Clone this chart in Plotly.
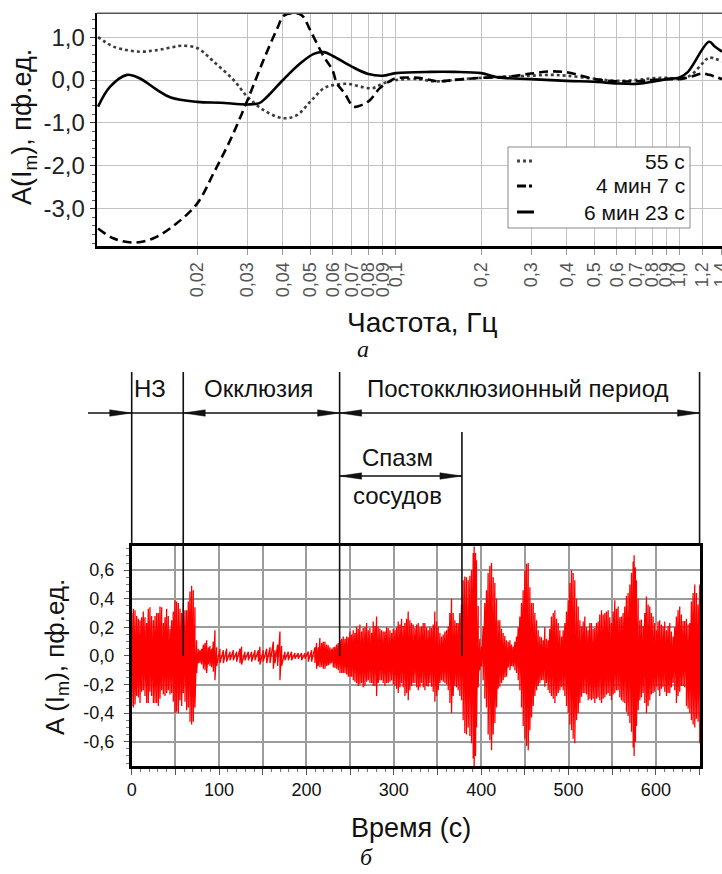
import numpy as np
import plotly.graph_objects as go

W, H = 722, 874
FONT = "Liberation Sans, Arial, sans-serif"

# ---------------- Panel a: spectra ----------------
freq_55s = [0.00893, 0.0095, 0.0101, 0.0112, 0.0125, 0.0138, 0.0148, 0.0162, 0.0176, 0.020,
            0.0228, 0.0268, 0.030, 0.0342, 0.040, 0.0448, 0.050, 0.0558, 0.060, 0.068,
            0.0755, 0.0828, 0.090, 0.100, 0.120, 0.135, 0.150, 0.170, 0.200, 0.250,
            0.300, 0.350, 0.400, 0.500, 0.600, 0.700, 0.800, 0.900, 1.000, 1.100,
            1.200, 1.270, 1.410]
amp_55s = [1.00, 0.88, 0.78, 0.70, 0.66, 0.68, 0.71, 0.76, 0.80, 0.74,
           0.43, 0.00, -0.39, -0.70, -0.89, -0.82, -0.50, -0.19, -0.12, -0.09,
           -0.16, -0.19, -0.08, 0.00, 0.02, -0.03, -0.02, 0.02, 0.05, 0.08,
           0.10, 0.12, 0.10, 0.03, -0.02, 0.00, 0.04, 0.05, 0.03, 0.12,
           0.38, 0.52, 0.43]

freq_4m7s = [0.00893, 0.0101, 0.0118, 0.0140, 0.0169, 0.020, 0.0228, 0.0261, 0.030, 0.0342,
             0.0382, 0.0403, 0.0440, 0.0468, 0.050, 0.0558, 0.0598, 0.062, 0.066, 0.071,
             0.076, 0.081, 0.0878, 0.0956, 0.100, 0.120, 0.140, 0.160, 0.200, 0.250,
             0.300, 0.350, 0.400, 0.450, 0.500, 0.600, 0.700, 0.800, 0.900, 1.000,
             1.100, 1.200, 1.270, 1.410]
amp_4m7s = [-3.46, -3.69, -3.79, -3.69, -3.34, -2.87, -2.17, -1.40, -0.47, 0.47,
            1.20, 1.50, 1.56, 1.50, 1.15, 0.54, 0.23, -0.08, -0.31, -0.62,
            -0.58, -0.47, -0.19, -0.02, 0.04, 0.05, -0.03, 0.00, 0.05, 0.08,
            0.15, 0.20, 0.18, 0.10, 0.02, -0.03, -0.03, 0.00, 0.02, 0.02,
            0.08, 0.15, 0.12, 0.02]

freq_6m23s = [0.00893, 0.00983, 0.0113, 0.0125, 0.0144, 0.0161, 0.020, 0.0241, 0.030, 0.033,
              0.0352, 0.040, 0.0461, 0.0514, 0.0558, 0.060, 0.070, 0.080, 0.090, 0.100,
              0.133, 0.160, 0.200, 0.229, 0.300, 0.400, 0.500, 0.600, 0.700, 0.800,
              0.900, 1.000, 1.070, 1.270, 1.330, 1.410]
amp_6m23s = [-0.62, -0.16, 0.12, 0.04, -0.23, -0.41, -0.51, -0.53, -0.57, -0.54,
             -0.39, 0.00, 0.39, 0.61, 0.65, 0.56, 0.31, 0.14, 0.10, 0.16,
             0.19, 0.19, 0.16, 0.06, 0.02, -0.02, -0.04, -0.08, -0.09, -0.04,
             0.02, 0.06, 0.19, 0.89, 0.78, 0.66]

series_names = ["55 с", "4 мин 7 с", "6 мин 23 с"]

freq_ticks = [0.02, 0.03, 0.04, 0.05, 0.06, 0.07, 0.08, 0.09, 0.1,
              0.2, 0.3, 0.4, 0.5, 0.6, 0.7, 0.8, 0.9, 1.0, 1.2, 1.4]
freq_ticktext = ["0,02", "0,03", "0,04", "0,05", "0,06", "0,07", "0,08", "0,09", "0,1",
                 "0,2", "0,3", "0,4", "0,5", "0,6", "0,7", "0,8", "0,9", "1,0", "1,2", "1,4"]
amp_ticks_a = [-3, -2, -1, 0, 1]
amp_ticktext_a = ["-3,0", "-2,0", "-1,0", "0,0", "1,0"]

# ---------------- Panel b: time signal (peak envelope) ----------------
sig_t = [0, 1.9, 3.8, 5.7, 7.6, 9.5, 11.4, 13.3, 15.2, 17.1,
         19, 20.9, 22.8, 24.8, 26.7, 28.6, 30.5, 32.4, 34.3, 36.2,
         38.1, 40, 41.9, 43.8, 45.7, 47.6, 49.5, 51.4, 53.4, 55.3,
         57.2, 59.1, 61, 62.9, 64.8, 66.7, 68.6, 70.5, 72.4, 74.3,
         76.2, 78.1, 80.1, 82, 83.9, 85.8, 87.7, 89.6, 91.5, 93.4,
         95.3, 97.2, 101, 104.9, 108.7, 112.5, 116.3, 120.1, 123.9, 125.8,
         129.6, 133.5, 137.3, 141.1, 145, 146.8, 150.6, 154.5, 158.3, 162.1,
         164, 167, 169.7, 171.6, 175.4, 179.2, 183, 186.8, 190.6, 194.5,
         198.3, 202.1, 205.9, 209.7, 211.6, 213.5,
         215.4, 217.4, 219.3, 221.2, 223.1, 225, 226.9, 228.8, 230.7, 232.6,
         234.5, 236.4, 238.4, 240.3, 242.2, 244.1, 246, 247.9, 249.8, 251.7,
         253.6, 255.5, 257.4, 259.3, 261.2, 263.1, 265, 267, 268.9, 270.8,
         272.7, 274.6, 276.5, 278.4, 280.3, 282.2, 284.1, 286, 287.9, 289.8,
         291.7, 293.6, 295.6, 297.5, 299.4, 301.3, 303.2, 305.1, 307, 308.9,
         310.8, 312.7, 314.6, 316.5, 318.4, 320.3, 322.2, 324.2, 326.1, 328,
         329.9, 331.8, 333.7, 335.6, 337.5, 339.4, 341.3, 343.2, 345.1, 347,
         349, 350.9, 352.8, 354.7, 356.6, 358.5, 360.4, 362.3, 364.2, 366.1,
         368, 369.9, 371.8, 373.7, 375.6, 377.5, 379.4, 381.3, 383.2, 385.2,
         387.1, 389, 390.9, 392, 393.6, 394.7, 396.6, 398.5, 400.4, 402.3,
         404.2, 406.1, 408, 410, 411.9, 413.8, 415.7, 417.6, 419.5, 421.4,
         423.3, 425.2, 427.1, 429,
         431, 433, 434.8, 436.7, 438.6, 440.5, 442.4, 444.3, 446.2, 448.1,
         450.1, 452, 453.9, 455.8, 457.7, 459.6, 461.5, 463.4, 465.3, 467.2,
         469.1, 471, 472.9, 474.8, 476.7, 478.6, 480.5, 482.5, 484.4, 486.3,
         488.2, 490.1, 492, 493.9, 495.8, 497.7, 499.6, 501.5, 503.4, 505.3,
         507.2, 509.2, 511.1, 513, 514.9, 516.8, 518.7, 520.6, 522.5, 524.4,
         526.3, 528.2, 530.1, 532, 533.9, 535.8, 537.8, 539.7, 541.6, 543.5,
         545.4, 547.3, 549.2, 551.1, 553, 554.9, 556.8, 558.7, 560.6, 562.5,
         564.4, 566.3, 568.2, 570.2, 572.1, 574, 575.1, 576.6, 577.8, 579.7,
         581.6, 583.5, 585.4, 587.3, 589.2, 591.1, 593, 594.9, 596.8, 598.7,
         600.6, 602.5, 604.4, 606.4, 608.3, 610.2, 612.1, 614, 615.9, 617.8,
         619.7, 621.6, 623.5, 625.4, 627.3, 629.2, 631.1, 633, 635, 636.9,
         638.8, 640.7, 642.6, 644.5, 646.4, 648.3, 650.2]
sig_hi = [0.30, 0.33, 0.32, 0.28, 0.26, 0.25, 0.27, 0.31, 0.27, 0.23,
          0.33, 0.34, 0.28, 0.25, 0.28, 0.30, 0.30, 0.345, 0.34, 0.23,
          0.27, 0.33, 0.28, 0.19, 0.25, 0.31, 0.39, 0.38, 0.37, 0.33,
          0.30, 0.37, 0.32, 0.32, 0.38, 0.45, 0.49, 0.46, 0.34, 0.11,
          0.05, 0.04, 0.05, 0.08, 0.09, 0.11, 0.06, 0.07, 0.05, 0.10,
          0.18, 0.06, 0.05, 0.04, 0.05, 0.03, 0.04, 0.03, 0.05, 0.065,
          0.03, 0.03, 0.03, 0.04, 0.04, 0.065, 0.04, 0.05, 0.06, 0.10,
          0.04, 0.08, 0.17, 0.07, 0.03, 0.03, 0.03, 0.02, 0.02, 0.02,
          0.02, 0.03, 0.04, 0.06, 0.09, 0.06,
          0.125, 0.09, 0.10, 0.10, 0.08, 0.075, 0.06, 0.05, 0.06, 0.065,
          0.08, 0.09, 0.11, 0.12, 0.135, 0.12, 0.135, 0.13, 0.17, 0.15,
          0.18, 0.16, 0.205, 0.19, 0.22, 0.17, 0.195, 0.20, 0.23, 0.18,
          0.195, 0.16, 0.24, 0.21, 0.275, 0.205, 0.19, 0.18, 0.17, 0.17,
          0.20, 0.195, 0.18, 0.16, 0.19, 0.18, 0.20, 0.24, 0.22, 0.26,
          0.21, 0.23, 0.26, 0.31, 0.25, 0.23, 0.22, 0.195, 0.22, 0.23,
          0.20, 0.205, 0.23, 0.23, 0.20, 0.18, 0.20, 0.195, 0.22, 0.31,
          0.24, 0.205, 0.16, 0.135, 0.15, 0.17, 0.18, 0.205, 0.30, 0.40,
          0.30, 0.25, 0.23, 0.23, 0.30, 0.36, 0.53, 0.555, 0.55, 0.53,
          0.56, 0.60, 0.72, 0.765, 0.72, 0.67, 0.35, 0.12, 0.065, 0.205,
          0.37, 0.46, 0.58, 0.63, 0.65, 0.55, 0.51, 0.40, 0.25, 0.25,
          0.19, 0.16, 0.14, 0.11,
          0.10, 0.11, 0.08, 0.065, 0.10, 0.135, 0.20, 0.275, 0.37, 0.46,
          0.60, 0.645, 0.65, 0.48, 0.37, 0.37, 0.30, 0.25, 0.18, 0.135,
          0.13, 0.11, 0.20, 0.12, 0.11, 0.19, 0.275, 0.30, 0.32, 0.26,
          0.23, 0.18, 0.135, 0.18, 0.23, 0.31, 0.39, 0.51, 0.60, 0.58,
          0.53, 0.40, 0.345, 0.25, 0.205, 0.24, 0.275, 0.20, 0.18, 0.23,
          0.23, 0.19, 0.195, 0.23, 0.24, 0.29, 0.32, 0.29, 0.30, 0.31,
          0.32, 0.27, 0.23, 0.31, 0.39, 0.33, 0.345, 0.27, 0.275, 0.30,
          0.345, 0.42, 0.44, 0.50, 0.58, 0.66, 0.705, 0.62, 0.53, 0.40,
          0.25, 0.255, 0.21, 0.30, 0.415, 0.36, 0.345, 0.30, 0.275, 0.23,
          0.18, 0.24, 0.25, 0.22, 0.205, 0.24, 0.18, 0.21, 0.23, 0.17,
          0.135, 0.20, 0.275, 0.32, 0.345, 0.29, 0.245, 0.245, 0.26, 0.22,
          0.23, 0.38, 0.44, 0.50, 0.44, 0.36, 0.50]
sig_lo = [-0.35, -0.36, -0.34, -0.28, -0.29, -0.33, -0.25, -0.24, -0.28, -0.33,
          -0.33, -0.25, -0.28, -0.33, -0.33, -0.33, -0.35, -0.30, -0.24, -0.27,
          -0.28, -0.26, -0.24, -0.27, -0.26, -0.32, -0.40, -0.39, -0.40, -0.31,
          -0.35, -0.26, -0.32, -0.38, -0.36, -0.46, -0.48, -0.46, -0.36, -0.12,
          -0.05, -0.05, -0.06, -0.09, -0.10, -0.12, -0.06, -0.07, -0.08, -0.11,
          -0.17, -0.07, -0.05, -0.05, -0.04, -0.03, -0.03, -0.04, -0.05, -0.06,
          -0.03, -0.03, -0.04, -0.03, -0.04, -0.06, -0.04, -0.05, -0.05, -0.09,
          -0.05, -0.07, -0.17, -0.07, -0.03, -0.03, -0.03, -0.02, -0.02, -0.03,
          -0.02, -0.04, -0.04, -0.05, -0.09, -0.07,
          -0.08, -0.075, -0.09, -0.09, -0.07, -0.065, -0.06, -0.05, -0.08, -0.085,
          -0.09, -0.10, -0.12, -0.12, -0.12, -0.12, -0.13, -0.145, -0.145, -0.145,
          -0.17, -0.18, -0.19, -0.21, -0.20, -0.19, -0.22, -0.21, -0.18, -0.17,
          -0.19, -0.19, -0.21, -0.21, -0.28, -0.19, -0.17, -0.17, -0.19, -0.21,
          -0.19, -0.19, -0.18, -0.17, -0.20, -0.21, -0.23, -0.26, -0.22, -0.19,
          -0.22, -0.28, -0.26, -0.31, -0.24, -0.21, -0.19, -0.19, -0.22, -0.24,
          -0.22, -0.19, -0.22, -0.24, -0.21, -0.215, -0.19, -0.215, -0.25, -0.32,
          -0.28, -0.24, -0.19, -0.17, -0.18, -0.19, -0.20, -0.24, -0.33, -0.40,
          -0.28, -0.21, -0.22, -0.24, -0.28, -0.31, -0.45, -0.54, -0.55, -0.50,
          -0.56, -0.61, -0.72, -0.77, -0.70, -0.50, -0.22, -0.10, -0.075, -0.17,
          -0.30, -0.36, -0.55, -0.59, -0.66, -0.55, -0.47, -0.36, -0.23, -0.215,
          -0.19, -0.17, -0.15, -0.145,
          -0.08, -0.10, -0.07, -0.075, -0.10, -0.12, -0.17, -0.24, -0.36, -0.49,
          -0.58, -0.63, -0.66, -0.52, -0.43, -0.35, -0.28, -0.24, -0.21, -0.19,
          -0.17, -0.17, -0.215, -0.19, -0.24, -0.26, -0.28, -0.30, -0.33, -0.28,
          -0.26, -0.24, -0.215, -0.24, -0.28, -0.35, -0.40, -0.48, -0.52, -0.58,
          -0.61, -0.45, -0.40, -0.33, -0.285, -0.26, -0.26, -0.27, -0.31, -0.30,
          -0.31, -0.30, -0.33, -0.30, -0.29, -0.31, -0.33, -0.30, -0.29, -0.27,
          -0.26, -0.28, -0.31, -0.27, -0.26, -0.24, -0.24, -0.29, -0.31, -0.32,
          -0.33, -0.39, -0.42, -0.47, -0.53, -0.64, -0.70, -0.60, -0.49, -0.38,
          -0.31, -0.29, -0.26, -0.33, -0.40, -0.35, -0.31, -0.27, -0.26, -0.25,
          -0.215, -0.24, -0.28, -0.23, -0.215, -0.25, -0.28, -0.26, -0.26, -0.22,
          -0.19, -0.24, -0.33, -0.28, -0.25, -0.21, -0.21, -0.22, -0.35, -0.37,
          -0.40, -0.45, -0.48, -0.50, -0.44, -0.46, -0.61]

time_ticks = list(range(0, 651, 50))
time_ticktext = [str(v) if v % 100 == 0 else " " for v in time_ticks]
amp_ticks_b = [-0.6, -0.4, -0.2, 0.0, 0.2, 0.4, 0.6]
amp_ticktext_b = ["-0,6", "-0,4", "-0,2", "0,0", "0,2", "0,4", "0,6"]

phase_bounds = [0, 59, 238, 378, 650]
phase_labels = ["НЗ", "Окклюзия", "Постокклюзионный период"]
spasm_label = ["Спазм", "сосудов"]

assert len(sig_t) == len(sig_hi) == len(sig_lo)

# ---------------- layout geometry (pixels) ----------------
A_X = (96.7, 722.0)
A_Y = (13.3, 246.0)
A_XR = (np.log10(0.00883), np.log10(1.41))
A_YR = (-3.87, 1.555)
B_X = (131.7, 700.0)
B_Y = (545.7, 766.0)
B_XR = (0, 650.5)
B_YR = (-0.77, 0.771)


def px(x):
    return x / W


def py(y):
    return 1 - y / H


def t2px(t):
    return B_X[0] + (t - B_XR[0]) / (B_XR[1] - B_XR[0]) * (B_X[1] - B_X[0])


def v2py(v):
    return B_Y[1] - (v - B_YR[0]) / (B_YR[1] - B_YR[0]) * (B_Y[1] - B_Y[0])


def text(x, y, s, size, family=FONT, angle=0, xanchor="center"):
    return dict(xref="paper", yref="paper", x=px(x), y=py(y), text=s, showarrow=False,
                xanchor=xanchor, yanchor="middle", textangle=angle,
                font=dict(family=family, size=size, color="#111"))


fig = go.Figure()
fig.add_trace(go.Scatter(x=freq_55s, y=amp_55s, mode="lines", name=series_names[0],
                         line=dict(color="#3c3c3c", width=2.6, dash="dot", shape="spline"),
                         xaxis="x", yaxis="y", showlegend=False))
fig.add_trace(go.Scatter(x=freq_4m7s, y=amp_4m7s, mode="lines", name=series_names[1],
                         line=dict(color="black", width=2.6, dash="9px,5px", shape="spline"),
                         xaxis="x", yaxis="y", showlegend=False))
fig.add_trace(go.Scatter(x=freq_6m23s, y=amp_6m23s, mode="lines", name=series_names[2],
                         line=dict(color="black", width=2.6, shape="spline"),
                         xaxis="x", yaxis="y", showlegend=False))

sx = np.repeat(np.array(sig_t, dtype=float), 2)
sy = np.column_stack([sig_hi, sig_lo]).ravel()
fig.add_trace(go.Scatter(x=sx, y=sy, mode="lines", line=dict(color="#ff0000", width=1.3),
                         xaxis="x2", yaxis="y2", showlegend=False, hoverinfo="skip"))

shapes = []
ann = []

# top border of panel a
shapes.append(dict(type="line", xref="paper", yref="paper", x0=px(A_X[0]), x1=px(A_X[1]),
                   y0=py(A_Y[0]), y1=py(A_Y[0]), line=dict(color="#555", width=1.5)))

# legend of panel a (drawn manually)
LX0, LX1, LY0, LY1 = 508, 690, 147, 228
shapes.append(dict(type="rect", xref="paper", yref="paper", x0=px(LX0), x1=px(LX1),
                   y0=py(LY1), y1=py(LY0), fillcolor="white", line=dict(color="#888", width=1)))
leg_y = [161, 186, 212]
leg_dash = ["dot", "dashdot", "solid"]
leg_col = ["#444", "black", "black"]
for yy, d, c, name in zip(leg_y, leg_dash, leg_col, series_names):
    shapes.append(dict(type="line", xref="paper", yref="paper", x0=px(517), x1=px(534),
                       y0=py(yy), y1=py(yy), line=dict(color=c, width=3, dash=d)))
    ann.append(text(687, yy, name, 21, xanchor="right"))

# axis titles panel a
ann.append(text(24, 127, "A(I<sub>m</sub>), пф.ед.", 27, angle=-90))
ann.append(text(423, 322, "Частота, Гц", 28))
ann.append(text(363, 349, "<i>а</i>", 24, family="Liberation Serif, Times New Roman, serif"))

# axis titles panel b
ann.append(text(56, 657, "A (I<sub>m</sub>), пф.ед.", 26, angle=-90))
ann.append(text(411, 828, "Время (с)", 27))
ann.append(text(366, 857, "<i>б</i>", 24, family="Liberation Serif, Times New Roman, serif"))

# phase boundary lines
LINE_TOP = 372
zero_py = v2py(0.0)
for i, t in enumerate(phase_bounds):
    x = px(t2px(t))
    if i == 3:
        y_top, y_bot = 432, zero_py
    elif i in (1, 2):
        y_top, y_bot = LINE_TOP, zero_py
    else:
        y_top, y_bot = LINE_TOP, B_Y[0]
    shapes.append(dict(type="line", xref="paper", yref="paper", x0=x, x1=x, y0=py(y_bot), y1=py(y_top),
                       line=dict(color="#111", width=1.6)))


def arrow_head(x_tip, y, direction, L=22, hw=3.2):
    xb = x_tip - direction * L
    return dict(type="path", xref="paper", yref="paper",
                path=f"M {px(x_tip)},{py(y)} L {px(xb)},{py(y - hw)} L {px(xb)},{py(y + hw)} Z",
                fillcolor="#111", line=dict(color="#111", width=0.5))


def hline(x0, x1, y):
    return dict(type="line", xref="paper", yref="paper", x0=px(x0), x1=px(x1), y0=py(y), y1=py(y),
                line=dict(color="#111", width=1.4))


ARROW_Y = 413
p = [t2px(t) for t in phase_bounds]
shapes.append(hline(88, p[0], ARROW_Y))
shapes.append(arrow_head(p[0], ARROW_Y, +1))
shapes.append(hline(p[0], p[1], ARROW_Y))
shapes.append(hline(p[1], p[2], ARROW_Y))
shapes.append(arrow_head(p[1], ARROW_Y, -1))
shapes.append(arrow_head(p[2], ARROW_Y, +1))
shapes.append(hline(p[2], p[4], ARROW_Y))
shapes.append(arrow_head(p[2], ARROW_Y, -1))
shapes.append(arrow_head(p[4], ARROW_Y, +1))

SPASM_Y = 476
shapes.append(hline(p[2], p[3], SPASM_Y))
shapes.append(arrow_head(p[2], SPASM_Y, -1))
shapes.append(arrow_head(p[3], SPASM_Y, +1))

label_x = [150, (p[1] + p[2]) / 2 - 3, (p[2] + p[4]) / 2 - 2]
for lx, lab in zip(label_x, phase_labels):
    ann.append(text(lx, 389, lab, 24))
sp_x = (p[2] + p[3]) / 2 - 3
ann.append(text(sp_x, 457, spasm_label[0], 24))
ann.append(text(sp_x, 495, spasm_label[1], 24))

fig.update_layout(
    width=W, height=H, autosize=False,
    margin=dict(l=0, r=0, t=0, b=0),
    paper_bgcolor="white", plot_bgcolor="white",
    font=dict(family=FONT, color="#111"),
    showlegend=False,
    xaxis=dict(type="log", domain=[px(A_X[0]), px(A_X[1])], range=list(A_XR), anchor="y",
               tickmode="array", tickvals=freq_ticks, ticktext=freq_ticktext, tickangle=-90,
               tickfont=dict(family=FONT, size=18, color="#555"), ticklabeloverflow="allow",
               showgrid=True, gridcolor="#c2c2c2", gridwidth=1,
               showline=True, linecolor="black", linewidth=3,
               ticks="outside", ticklen=6, tickcolor="#999", zeroline=False, automargin=False),
    yaxis=dict(domain=[py(A_Y[1]), py(A_Y[0])], range=list(A_YR), anchor="x",
               tickmode="array", tickvals=amp_ticks_a, ticktext=amp_ticktext_a,
               tickfont=dict(family=FONT, size=24, color="#222"),
               showgrid=True, gridcolor="#c2c2c2", gridwidth=1,
               showline=True, linecolor="black", linewidth=2,
               ticks="outside", ticklen=5, tickcolor="#333", zeroline=False, automargin=False,
               minor=dict(tickmode="linear", tick0=0, dtick=0.2, ticks="outside", ticklen=3,
                          tickcolor="#555", showgrid=False)),
    xaxis2=dict(domain=[px(B_X[0]), px(B_X[1])], range=list(B_XR), anchor="y2",
                tickmode="array", tickvals=time_ticks, ticktext=time_ticktext,
                tickfont=dict(family=FONT, size=18, color="#111"),
                showgrid=True, gridcolor="#9c9c9c", gridwidth=1.5,
                showline=True, linecolor="black", linewidth=2.5, mirror=True,
                ticks="outside", ticklen=6, tickcolor="#555", zeroline=False, automargin=False,
                minor=dict(tickmode="linear", tick0=0, dtick=10, ticks="outside", ticklen=3,
                           tickcolor="#777", showgrid=False)),
    yaxis2=dict(domain=[py(B_Y[1]), py(B_Y[0])], range=list(B_YR), anchor="x2",
                tickmode="array", tickvals=amp_ticks_b, ticktext=amp_ticktext_b,
                tickfont=dict(family=FONT, size=18, color="#111"),
                showgrid=True, gridcolor="#9c9c9c", gridwidth=1.5,
                showline=True, linecolor="black", linewidth=2.5, mirror=True,
                ticks="outside", ticklen=5, tickcolor="#555", zeroline=False, automargin=False,
                ticklabelstandoff=6,
                minor=dict(tickmode="linear", tick0=0, dtick=0.05, ticks="outside", ticklen=3,
                           tickcolor="#777", showgrid=False)),
    shapes=shapes,
    annotations=ann,
)

fig.write_html("out.html", config={"displayModeBar": False},
               post_script="document.body.style.margin='0px';document.body.style.overflow='hidden';")
